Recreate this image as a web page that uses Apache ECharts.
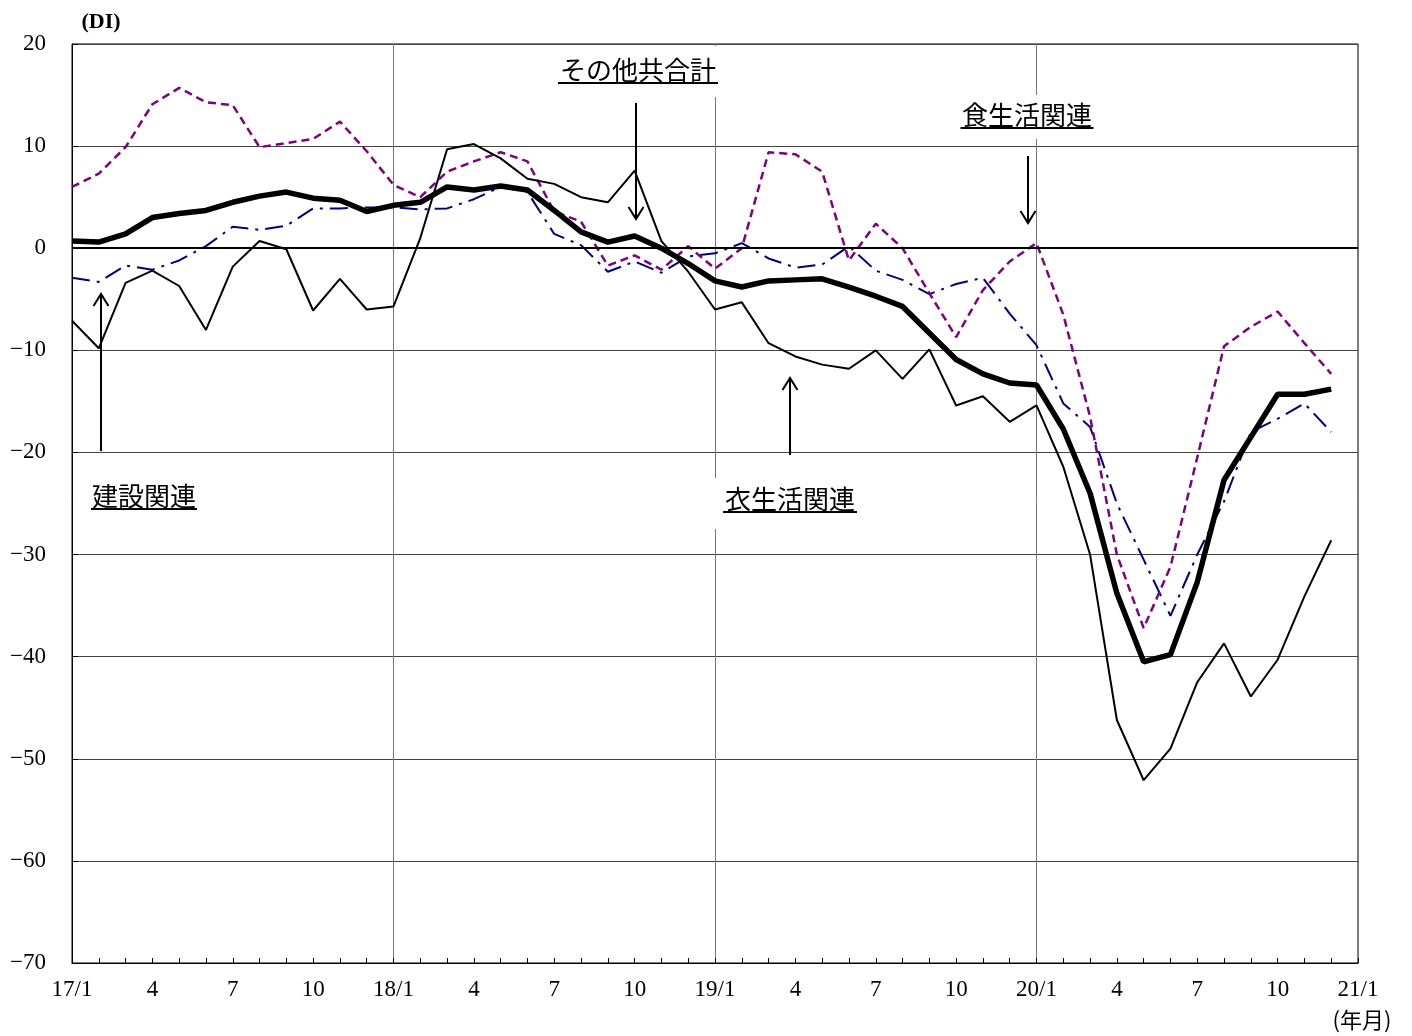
<!DOCTYPE html>
<html>
<head>
<meta charset="utf-8">
<script src="https://cdn.jsdelivr.net/npm/echarts@6/dist/echarts.min.js"></script>
<style>
html,body{margin:0;padding:0;background:#fff;}
#chart{width:1412px;height:1036px;}
</style>
</head>
<body>
<div id="chart"></div>
<script>
const categories = ['17/1','2','3','4','5','6','7','8','9','10','11','12',
  '18/1','2','3','4','5','6','7','8','9','10','11','12',
  '19/1','2','3','4','5','6','7','8','9','10','11','12',
  '20/1','2','3','4','5','6','7','8','9','10','11','12',
  '21/1'];

// その他共合計 (thick black)
const totalDI = [0.7,0.6,1.4,3.0,3.4,3.7,4.5,5.1,5.5,4.9,4.7,3.6,
  4.2,4.5,6.0,5.7,6.1,5.7,3.7,1.6,0.6,1.2,0.0,-1.5,
  -3.2,-3.8,-3.2,-3.1,-3.0,-3.8,-4.7,-5.7,-8.3,-10.9,-12.3,-13.2,
  -13.4,-17.7,-24.0,-33.8,-40.5,-39.8,-32.7,-22.7,-18.5,-14.3,-14.3,-13.8];

// 衣生活関連 (thin black)
const clothingDI = [-7.1,-9.8,-3.4,-2.2,-3.7,-8.0,-1.8,0.7,-0.1,-6.1,-3.0,-6.0,
  -5.7,1.0,9.7,10.2,8.8,6.8,6.3,5.0,4.5,7.6,0.7,-2.3,
  -6.0,-5.3,-9.3,-10.6,-11.4,-11.8,-10.0,-12.8,-9.9,-15.4,-14.5,-17.0,
  -15.4,-21.4,-30.0,-46.2,-52.1,-49.0,-42.5,-38.7,-43.9,-40.3,-34.1,-28.6];

// 食生活関連 (purple dashed)
const foodDI = [6.0,7.3,9.9,14.1,15.7,14.3,14.0,9.9,10.3,10.7,12.4,9.5,
  6.2,5.0,7.5,8.5,9.4,8.5,3.6,2.6,-1.7,-0.7,-2.1,0.2,
  -2.0,0.0,9.4,9.2,7.5,-1.2,2.4,0.0,-4.4,-8.7,-4.1,-1.3,
  0.5,-6.5,-16.5,-30.0,-37.2,-31.2,-20.5,-9.6,-7.7,-6.2,-9.3,-12.3];

// 建設関連 (navy dash-dot)
const constructionDI = [-2.9,-3.3,-1.7,-2.1,-1.2,0.2,2.1,1.8,2.2,3.9,3.9,4.0,
  4.0,3.8,3.9,4.8,6.0,5.5,1.4,0.3,-2.3,-1.3,-2.4,-0.8,
  -0.5,0.5,-1.0,-1.9,-1.6,0.2,-2.2,-3.1,-4.5,-3.5,-2.9,-6.4,
  -9.5,-15.2,-17.5,-25.0,-30.5,-36.0,-30.0,-24.8,-18.0,-16.7,-15.2,-18.0];

const yTicks = {min:-70, max:20, interval:10};

const serif = "'Liberation Serif','DejaVu Serif',serif";
const cjk = "'Noto Sans CJK JP','Liberation Serif',sans-serif";

const chart = echarts.init(document.getElementById('chart'), null, {renderer:'canvas'});

function arrow(x, y1, y2) {
  const dir = y2 > y1 ? 1 : -1;
  return [
    {type:'line', shape:{x1:x,y1:y1,x2:x,y2:y2}, style:{stroke:'#000',lineWidth:2}, z:120},
    {type:'polyline', shape:{points:[[x-7.5,y2-dir*12],[x,y2],[x+7.5,y2-dir*12]]}, style:{stroke:'#000',lineWidth:2,fill:null}, z:120}
  ];
}
function label(text, cx, cy, w, box) {
  const els = [];
  if (box) els.push({type:'rect', shape:{x:box[0],y:box[1],width:box[2]-box[0],height:box[3]-box[1]}, style:{fill:'#fff'}, z:110});
  els.push({type:'text', x:cx, y:cy, style:{text:text, font:"26px "+cjk, fill:'#000', textAlign:'center', textVerticalAlign:'middle'}, z:120});
  els.push({type:'line', shape:{x1:cx-w/2,y1:cy+13,x2:cx+w/2,y2:cy+13}, style:{stroke:'#000',lineWidth:2}, z:120});
  return els;
}

const graphics = [].concat(
  label('その他共合計', 638, 70, 160, [552,46,722,97]),
  label('食生活関連', 1027, 115, 133, [955,95,1099,139]),
  label('衣生活関連', 790, 499, 134, [712,478,862,529]),
  label('建設関連', 144, 496, 106, null),
  arrow(636, 103, 219),
  arrow(1028, 156, 223),
  arrow(790, 455, 378),
  arrow(101, 451, 294),
  [
    {type:'text', x:101, y:22, style:{text:'(DI)', font:"bold 22px "+serif, fill:'#000', textAlign:'center', textVerticalAlign:'middle'}, z:120},
    {type:'text', x:1362, y:1020, style:{text:'(年月)', font:"22px "+cjk, fill:'#000', textAlign:'center', textVerticalAlign:'middle'}, z:120}
  ]
);

const option = {
  backgroundColor:'#fff',
  animation:false,
  grid:{left:72, right:54, top:44, bottom:73, show:true, borderColor:'#000', borderWidth:1, containLabel:false},
  xAxis:{
    type:'category', data:categories, boundaryGap:false,
    axisLine:{onZero:false, lineStyle:{color:'#000', width:1}},
    axisTick:{show:true, inside:true, length:5, interval:0, lineStyle:{color:'#000'}},
    axisLabel:{interval:2, color:'#000', fontFamily:serif, fontSize:23, margin:15},
    splitLine:{show:true, interval:function(i){return i%12===0;}, lineStyle:{color:'#777', width:1}}
  },
  yAxis:{
    type:'value', min:yTicks.min, max:yTicks.max, interval:yTicks.interval,
    axisLine:{show:true, onZero:false, lineStyle:{color:'#000', width:1}},
    axisTick:{show:true, inside:true, length:6, lineStyle:{color:'#000'}},
    axisLabel:{color:'#000', fontFamily:serif, fontSize:23, margin:26,
      formatter:function(v){return String(v).replace('-', '\u2212');}},
    splitLine:{show:true, lineStyle:{color:'#444', width:1}}
  },
  series:[
    {name:'建設関連', type:'line', data:constructionDI, symbol:'none', z:3,
      lineStyle:{color:'#000080', width:2, type:[18,7,3,7]},
      markLine:{silent:true, symbol:'none', label:{show:false}, data:[{yAxis:0}], lineStyle:{color:'#000', width:2, type:'solid'}}},
    {name:'食生活関連', type:'line', data:foodDI, symbol:'none', z:4,
      lineStyle:{color:'#800080', width:2.5, type:[8,5]}},
    {name:'衣生活関連', type:'line', data:clothingDI, symbol:'none', z:5,
      lineStyle:{color:'#000', width:2}},
    {name:'その他共合計', type:'line', data:totalDI, symbol:'none', z:6,
      lineStyle:{color:'#000', width:5.5}}
  ],
  graphic: graphics
};
chart.setOption(option);
</script>
</body>
</html>
